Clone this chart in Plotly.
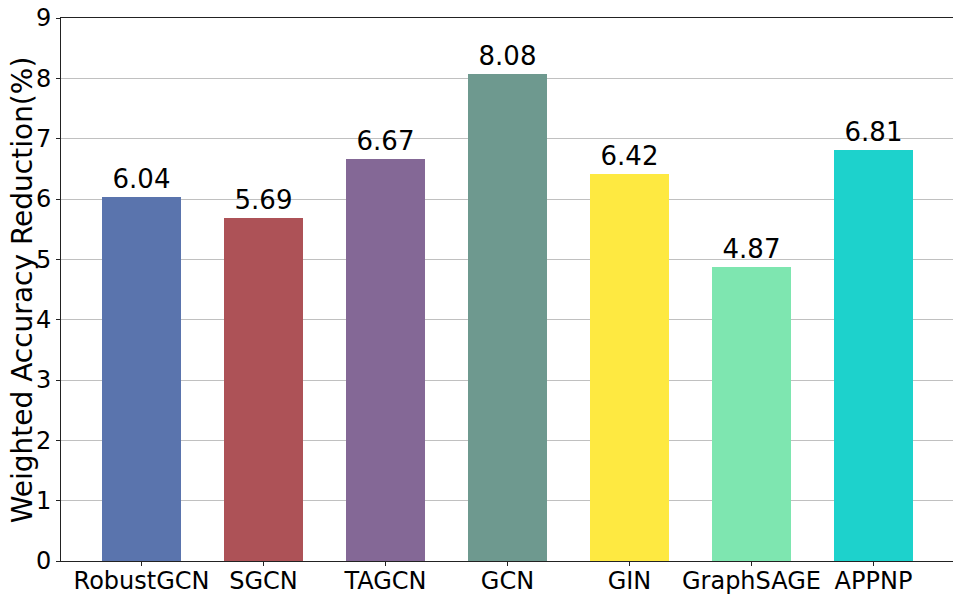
import plotly.graph_objects as go

# data
models = ["RobustGCN", "SGCN", "TAGCN", "GCN", "GIN", "GraphSAGE", "APPNP"]
reduction = [6.04, 5.69, 6.67, 8.08, 6.42, 4.87, 6.81]
bar_colors = ["#5a74ad", "#ad5257", "#846896", "#6e998f", "#fee941", "#7ee6b0", "#1dd2cc"]
y_ticks = [0, 1, 2, 3, 4, 5, 6, 7, 8, 9]


fig = go.Figure()

fig.add_trace(
    go.Bar(
        x=list(range(len(models))),
        y=reduction,
        width=0.65,
        marker=dict(color=bar_colors, line=dict(width=0)),
        text=[f"{v:.2f}" for v in reduction],
        textposition="outside",
        textfont=dict(size=26, color="black"),
        cliponaxis=False,
    )
)

# page body adds ~8px offset, so the figure is sized a bit smaller
fig.update_layout(
    width=953,
    height=590,
    margin=dict(l=53, r=7, t=10, b=37),
    plot_bgcolor="white",
    paper_bgcolor="white",
    font=dict(family="DejaVu Sans", color="black"),
    showlegend=False,
    bargap=0,
)

# y title as a rotated annotation
fig.add_annotation(
    text="Weighted Accuracy Reduction(%)",
    xref="paper",
    yref="paper",
    x=-0.0428,
    y=0.5,
    xanchor="center",
    yanchor="middle",
    textangle=-90,
    showarrow=False,
    borderpad=0,
    font=dict(size=28),
)

fig.update_xaxes(
    range=[-0.66, 6.66],
    tickvals=list(range(len(models))),
    ticktext=models,
    tickfont=dict(size=24),
    ticks="outside",
    ticklen=4,
    tickcolor="#222222",
    ticklabelstandoff=-6,
    showline=True,
    linecolor="#222222",
    linewidth=1,
    mirror=True,
    showgrid=False,
    zeroline=False,
    automargin=False,
)

fig.update_yaxes(
    range=[0, 9],
    tickvals=y_ticks,
    tickfont=dict(size=24),
    ticks="outside",
    ticklen=4,
    tickcolor="#222222",
    ticklabeloverflow="allow",
    showline=True,
    linecolor="#222222",
    linewidth=1,
    mirror=True,
    showgrid=True,
    gridcolor="#c0c0c0",
    gridwidth=1,
    zeroline=False,
    automargin=False,
)

fig.write_html("out.html")
